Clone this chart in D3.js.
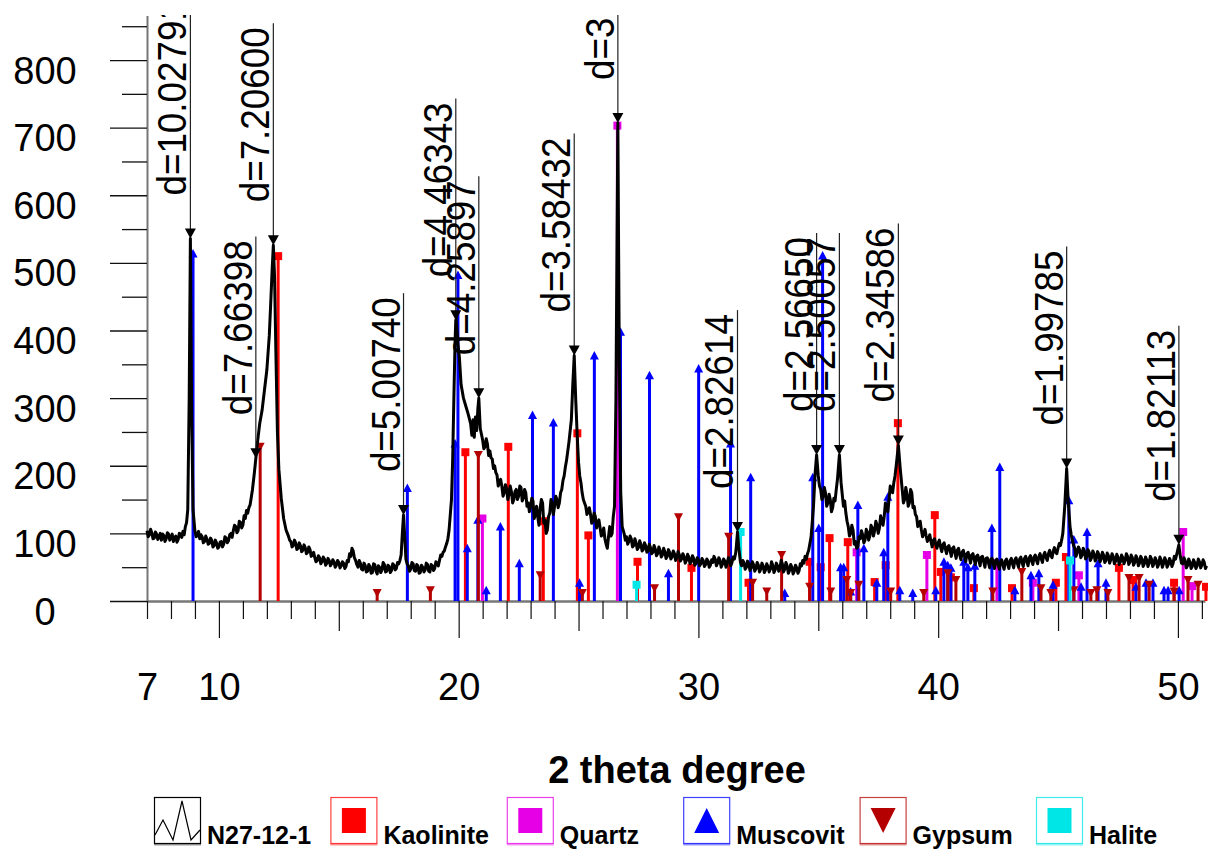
<!DOCTYPE html>
<html>
<head>
<meta charset="utf-8">
<script src="https://cdn.jsdelivr.net/npm/d3@7"></script>
<style>
  body { margin: 0; background: #fff; }
  svg { display: block; font-family: "Liberation Sans", Arial, sans-serif; }
</style>
</head>
<body>
<svg id="chart" width="1208" height="850"></svg>
<script>
// measured pattern N27-12-1 : [2theta, counts]
const spectrum = [
  [7.0,104],[7.05,95],[7.1,98],[7.15,106],[7.2,101],[7.25,92],[7.3,93],[7.35,102],[7.4,99],[7.45,91],
  [7.5,95],[7.55,100],[7.6,90],[7.65,99],[7.7,97],[7.75,88],[7.8,92],[7.85,101],[7.9,99],[7.95,90],
  [8.0,94],[8.05,99],[8.1,88],[8.15,93],[8.2,96],[8.25,87],[8.3,91],[8.35,100],[8.4,99],[8.45,94],
  [8.5,103],[8.55,98],[8.6,110],[8.65,116],[8.7,135],[8.76,300],[8.81,536],[8.86,290],[8.92,135],[9.0,103],
  [9.05,95],[9.1,97],[9.15,103],[9.2,92],[9.25,98],[9.3,95],[9.35,86],[9.4,88],[9.45,96],[9.5,92],
  [9.55,84],[9.6,85],[9.65,93],[9.7,90],[9.75,80],[9.8,82],[9.85,90],[9.9,86],[9.95,78],[10.0,80],
  [10.05,87],[10.1,88],[10.15,80],[10.2,84],[10.25,95],[10.3,93],[10.35,86],[10.4,89],[10.45,98],[10.5,100],
  [10.55,94],[10.6,104],[10.65,112],[10.7,110],[10.75,101],[10.8,104],[10.85,118],[10.9,116],[10.95,108],[11.0,112],
  [11.05,126],[11.1,122],[11.15,134],[11.2,130],[11.25,138],[11.3,142],[11.4,165],[11.48,190],[11.54,211],[11.6,232],
  [11.7,262],[11.8,282],[11.9,312],[12.0,342],[12.1,392],[12.16,440],[12.22,490],[12.27,526],[12.32,480],[12.38,360],
  [12.44,250],[12.5,195],[12.6,152],[12.7,122],[12.8,105],[12.9,96],[12.95,90],[13.0,88],[13.05,80],[13.1,82],
  [13.15,90],[13.2,86],[13.25,76],[13.3,78],[13.35,86],[13.4,82],[13.45,73],[13.5,75],[13.55,83],[13.6,79],
  [13.65,70],[13.7,72],[13.75,80],[13.8,76],[13.85,66],[13.9,68],[13.95,72],[14.0,64],[14.05,58],[14.1,60],
  [14.15,67],[14.2,64],[14.25,55],[14.3,58],[14.35,65],[14.4,62],[14.45,53],[14.5,56],[14.55,63],[14.6,60],
  [14.65,52],[14.7,55],[14.75,61],[14.8,58],[14.85,50],[14.9,53],[14.95,60],[15.0,57],[15.05,49],[15.1,52],
  [15.15,58],[15.2,56],[15.25,48],[15.3,51],[15.35,60],[15.4,58],[15.45,70],[15.5,66],[15.55,78],[15.6,74],
  [15.65,64],[15.7,60],[15.75,54],[15.8,50],[15.85,60],[15.9,56],[15.95,47],[16.0,46],[16.05,56],[16.1,53],
  [16.15,43],[16.2,44],[16.25,54],[16.3,51],[16.35,41],[16.4,42],[16.45,55],[16.5,54],[16.55,44],[16.6,40],
  [16.65,52],[16.7,50],[16.75,42],[16.8,46],[16.85,57],[16.9,54],[16.95,43],[17.0,44],[17.05,53],[17.1,51],
  [17.15,42],[17.2,45],[17.25,55],[17.3,53],[17.35,46],[17.4,48],[17.45,57],[17.5,55],[17.55,60],[17.6,68],
  [17.65,100],[17.7,127],[17.75,95],[17.8,62],[17.85,55],[17.9,52],[17.95,44],[18.0,47],[18.05,57],[18.1,55],
  [18.15,45],[18.2,44],[18.25,54],[18.3,52],[18.35,41],[18.4,42],[18.45,53],[18.5,50],[18.55,43],[18.6,46],
  [18.65,56],[18.7,54],[18.75,44],[18.8,43],[18.85,54],[18.9,52],[18.95,45],[19.0,48],[19.05,58],[19.1,56],
  [19.15,52],[19.2,60],[19.25,68],[19.3,66],[19.35,72],[19.4,74],[19.45,80],[19.5,85],[19.55,92],[19.6,105],
  [19.7,150],[19.75,210],[19.8,300],[19.85,385],[19.88,415],[19.92,405],[19.97,380],[20.03,360],[20.1,320],[20.2,300],
  [20.3,288],[20.4,276],[20.5,262],[20.55,245],[20.6,268],[20.65,242],[20.7,272],[20.75,252],[20.8,284],[20.84,300],
  [20.9,255],[21.0,238],[21.05,225],[21.1,228],[21.15,240],[21.2,232],[21.25,215],[21.3,222],[21.35,212],[21.4,210],
  [21.45,196],[21.5,200],[21.55,190],[21.6,186],[21.65,170],[21.7,176],[21.75,180],[21.8,170],[21.85,155],[21.9,160],
  [21.95,172],[22.0,166],[22.05,150],[22.1,158],[22.15,170],[22.2,162],[22.25,145],[22.3,150],[22.35,162],[22.4,165],
  [22.45,150],[22.5,155],[22.55,170],[22.6,168],[22.65,148],[22.7,152],[22.75,165],[22.8,160],[22.85,140],[22.9,145],
  [22.95,132],[23.0,140],[23.05,152],[23.1,148],[23.15,122],[23.2,128],[23.25,140],[23.3,124],[23.35,112],[23.4,138],
  [23.45,150],[23.5,145],[23.55,115],[23.6,120],[23.65,100],[23.7,105],[23.75,125],[23.8,130],[23.85,150],[23.9,145],
  [23.95,128],[24.0,140],[24.05,155],[24.1,150],[24.15,138],[24.2,145],[24.25,160],[24.3,165],[24.35,178],[24.4,185],
  [24.45,198],[24.5,208],[24.6,235],[24.7,268],[24.76,320],[24.82,363],[24.88,300],[24.95,240],[25.0,205],[25.05,185],
  [25.1,175],[25.15,160],[25.2,150],[25.25,145],[25.3,140],[25.35,128],[25.4,132],[25.45,138],[25.5,128],[25.55,115],
  [25.6,118],[25.65,130],[25.7,125],[25.75,108],[25.8,114],[25.85,120],[25.9,108],[25.95,96],[26.0,100],[26.05,108],
  [26.1,92],[26.15,84],[26.2,78],[26.25,95],[26.3,110],[26.35,96],[26.4,100],[26.45,125],[26.5,140],[26.56,300],
  [26.64,707],[26.7,350],[26.76,160],[26.82,110],[26.9,100],[26.95,90],[27.0,95],[27.05,84],[27.1,88],[27.15,96],
  [27.2,92],[27.25,80],[27.3,82],[27.35,92],[27.4,86],[27.45,76],[27.5,79],[27.55,89],[27.6,84],[27.65,74],
  [27.7,76],[27.75,86],[27.8,82],[27.85,72],[27.9,74],[27.95,84],[28.0,79],[28.05,70],[28.1,72],[28.15,82],
  [28.2,77],[28.25,67],[28.3,70],[28.35,80],[28.4,75],[28.45,65],[28.5,68],[28.55,78],[28.6,73],[28.65,63],
  [28.7,66],[28.75,76],[28.8,72],[28.85,62],[28.9,65],[28.95,74],[29.0,70],[29.05,60],[29.1,64],[29.15,73],
  [29.2,69],[29.25,59],[29.3,62],[29.35,70],[29.4,66],[29.45,56],[29.5,60],[29.55,69],[29.6,65],[29.65,55],
  [29.7,58],[29.75,67],[29.8,63],[29.85,53],[29.9,56],[29.95,64],[30.0,61],[30.05,52],[30.1,55],[30.15,63],
  [30.2,60],[30.25,51],[30.3,54],[30.35,62],[30.4,59],[30.45,50],[30.5,53],[30.55,61],[30.6,57],[30.65,66],
  [30.7,62],[30.75,52],[30.8,56],[30.85,64],[30.9,60],[30.95,50],[31.0,54],[31.05,62],[31.1,59],[31.15,50],
  [31.2,56],[31.25,64],[31.3,60],[31.35,52],[31.4,57],[31.45,65],[31.5,62],[31.55,70],[31.58,80],[31.63,102],
  [31.68,80],[31.75,58],[31.8,52],[31.85,60],[31.9,57],[31.95,47],[32.0,50],[32.05,59],[32.1,55],[32.15,45],
  [32.2,49],[32.25,58],[32.3,54],[32.35,44],[32.4,48],[32.45,57],[32.5,53],[32.55,43],[32.6,47],[32.65,56],
  [32.7,52],[32.75,42],[32.8,46],[32.85,55],[32.9,51],[32.95,43],[33.0,47],[33.05,58],[33.1,53],[33.15,42],
  [33.2,46],[33.25,56],[33.3,52],[33.35,44],[33.4,48],[33.45,60],[33.5,55],[33.55,43],[33.6,47],[33.65,57],
  [33.7,52],[33.75,41],[33.8,45],[33.85,54],[33.9,50],[33.95,40],[34.0,44],[34.05,53],[34.1,49],[34.15,41],
  [34.2,45],[34.25,55],[34.3,52],[34.35,60],[34.4,56],[34.45,66],[34.5,62],[34.55,70],[34.6,75],[34.7,95],
  [34.8,140],[34.87,190],[34.93,216],[35.0,185],[35.05,170],[35.1,165],[35.15,150],[35.2,155],[35.25,168],[35.3,160],
  [35.35,140],[35.4,145],[35.45,158],[35.5,150],[35.55,132],[35.6,138],[35.65,152],[35.7,148],[35.75,165],[35.8,180],
  [35.88,216],[35.95,175],[36.05,140],[36.1,148],[36.15,130],[36.2,118],[36.25,110],[36.3,96],[36.35,100],[36.4,112],
  [36.45,105],[36.5,84],[36.55,88],[36.6,78],[36.65,80],[36.7,95],[36.75,92],[36.8,104],[36.85,98],[36.9,86],
  [36.95,90],[37.0,106],[37.05,102],[37.1,90],[37.15,96],[37.2,112],[37.25,108],[37.3,96],[37.35,104],[37.4,118],
  [37.45,112],[37.5,100],[37.55,108],[37.6,126],[37.65,120],[37.7,112],[37.75,125],[37.8,145],[37.85,140],[37.9,132],
  [37.95,150],[38.0,170],[38.05,165],[38.1,160],[38.15,175],[38.2,185],[38.25,200],[38.34,230],[38.42,195],[38.5,165],
  [38.55,145],[38.6,150],[38.65,168],[38.7,158],[38.75,140],[38.8,145],[38.85,165],[38.9,160],[38.95,138],[39.0,140],
  [39.05,128],[39.1,125],[39.15,110],[39.2,112],[39.25,118],[39.3,105],[39.35,95],[39.4,100],[39.45,106],[39.5,96],
  [39.55,88],[39.6,92],[39.65,98],[39.7,88],[39.75,80],[39.8,90],[39.85,92],[39.9,84],[39.95,78],[40.0,86],
  [40.05,90],[40.1,80],[40.15,73],[40.2,83],[40.25,86],[40.3,77],[40.35,70],[40.4,80],[40.45,82],[40.5,74],
  [40.55,66],[40.6,78],[40.65,80],[40.7,71],[40.75,63],[40.8,75],[40.85,78],[40.9,68],[40.95,61],[41.0,72],
  [41.05,75],[41.1,66],[41.15,58],[41.2,70],[41.25,72],[41.3,64],[41.35,56],[41.4,68],[41.45,70],[41.5,62],
  [41.55,54],[41.6,66],[41.65,68],[41.7,60],[41.75,52],[41.8,65],[41.85,66],[41.9,58],[41.95,50],[42.0,63],
  [42.05,64],[42.1,56],[42.15,49],[42.2,62],[42.25,63],[42.3,55],[42.35,48],[42.4,60],[42.45,62],[42.5,54],
  [42.55,47],[42.6,58],[42.65,61],[42.7,53],[42.75,47],[42.8,59],[42.85,62],[42.9,54],[42.95,48],[43.0,60],
  [43.05,63],[43.1,55],[43.15,49],[43.2,61],[43.25,64],[43.3,56],[43.35,50],[43.4,62],[43.45,65],[43.5,57],
  [43.55,51],[43.6,63],[43.65,66],[43.7,58],[43.75,52],[43.8,64],[43.85,67],[43.9,59],[43.95,54],[44.0,65],
  [44.05,68],[44.1,60],[44.15,55],[44.2,66],[44.25,70],[44.3,62],[44.35,57],[44.4,68],[44.45,72],[44.5,64],
  [44.55,60],[44.6,70],[44.65,75],[44.7,67],[44.75,64],[44.8,74],[44.85,79],[44.9,72],[44.95,70],[45.0,78],
  [45.05,85],[45.1,82],[45.15,90],[45.2,100],[45.28,140],[45.36,196],[45.42,150],[45.5,110],[45.55,98],[45.6,90],
  [45.65,82],[45.7,78],[45.75,66],[45.8,72],[45.85,80],[45.9,76],[45.95,64],[46.0,68],[46.05,78],[46.1,74],
  [46.15,62],[46.2,66],[46.25,76],[46.3,72],[46.35,60],[46.4,64],[46.45,74],[46.5,70],[46.55,59],[46.6,63],
  [46.65,73],[46.7,69],[46.75,58],[46.8,62],[46.85,72],[46.9,68],[46.95,57],[47.0,60],[47.05,71],[47.1,67],
  [47.15,56],[47.2,61],[47.25,70],[47.3,66],[47.35,55],[47.4,59],[47.45,69],[47.5,65],[47.55,54],[47.6,58],
  [47.65,68],[47.7,64],[47.75,55],[47.8,60],[47.85,70],[47.9,66],[47.95,54],[48.0,58],[48.05,68],[48.1,64],
  [48.15,53],[48.2,57],[48.25,67],[48.3,63],[48.35,52],[48.4,56],[48.45,66],[48.5,62],[48.55,51],[48.6,55],
  [48.65,65],[48.7,61],[48.75,51],[48.8,56],[48.85,66],[48.9,62],[48.95,51],[49.0,55],[49.05,64],[49.1,60],
  [49.15,50],[49.2,54],[49.25,65],[49.3,61],[49.35,50],[49.4,55],[49.45,64],[49.5,60],[49.55,50],[49.6,54],
  [49.65,63],[49.7,59],[49.75,51],[49.8,56],[49.85,66],[49.9,62],[49.97,72],[50.04,83],[50.1,66],[50.15,56],
  [50.2,55],[50.25,64],[50.3,60],[50.35,49],[50.4,52],[50.45,62],[50.5,58],[50.55,48],[50.6,51],[50.65,61],
  [50.7,57],[50.75,48],[50.8,52],[50.85,62],[50.9,58],[50.95,49],[51.0,53],[51.05,61],[51.1,57],[51.15,48],
  [51.2,52]
];

// reference sticks : [2theta, intensity]
const kaolinite = [
  [12.47,510],[20.28,220],[22.07,228],[23.53,118],[24.95,248],[25.41,97],[27.46,58],[29.71,49],
  [32.09,27],[34.64,58],[35.10,50],[35.47,93],[36.23,87],[37.35,28],[37.81,53],[38.32,263],
  [39.86,127],[40.11,43],[40.53,35],[41.49,19],[43.08,19],[44.91,27],[45.33,65],[47.54,49],
  [48.13,31],[49.84,27],[51.17,21]
];
const quartz = [
  [20.99,122],[26.62,703],[36.60,72],[39.53,68],[42.45,56],[43.95,27],[45.87,38],[50.22,102],[50.59,22]
];
const muscovite = [
  [8.92,514],[17.86,167],[19.85,233],[19.97,482],[20.36,78],[20.80,120],[21.15,16],[21.74,110],
  [22.53,56],[23.08,275],[23.95,264],[25.04,27],[25.66,363],[26.75,398],[27.96,334],[28.75,41],
  [30.01,344],[31.34,233],[32.18,183],[33.60,12],[34.77,183],[35.02,108],[35.18,511],[35.93,50],
  [36.06,50],[36.35,14],[36.65,142],[36.90,78],[37.44,27],[37.73,72],[37.90,154],[38.40,16],
  [38.94,12],[39.90,16],[40.24,58],[40.40,53],[40.53,49],[41.07,58],[41.24,50],[41.53,52],
  [42.24,108],[42.57,198],[43.20,16],[43.87,38],[44.20,41],[44.79,24],[45.45,149],[45.66,91],
  [45.96,21],[46.21,102],[46.67,56],[47.00,27],[48.25,21],[48.67,27],[48.96,27],[49.42,16],
  [49.59,16],[50.05,16]
];
const gypsum = [
  [11.72,228],[16.60,12],[18.82,16],[20.82,216],[23.40,38],[25.16,12],[28.17,19],[29.17,124],
  [31.26,95],[32.26,27],[32.85,14],[33.47,68],[34.64,21],[35.52,14],[36.19,31],[36.35,12],
  [36.69,24],[38.02,14],[39.40,12],[40.40,41],[40.74,31],[42.28,14],[43.49,43],[44.29,19],
  [44.70,12],[45.66,16],[46.37,12],[46.62,16],[47.08,12],[47.96,34],[48.38,34],[48.80,24],
  [49.84,14],[50.42,31],[50.84,24]
];
const halite = [[27.42,24],[31.76,102],[45.50,60]];

// labelled peaks
const peakLabels = ["d=10.02791","d=7.66398","d=7.20600","d=5.00740","d=4.46343","d=4.25897","d=3.58432",
  "d=3.34353","d=2.82614","d=2.56650","d=2.50057","d=2.34586","d=1.99785","d=1.82113"];
const peakTheta = [8.81,11.54,12.27,17.70,19.88,20.84,24.82,26.64,31.63,34.93,35.88,38.34,45.36,50.04];
const peakCounts = [536,211,526,127,415,300,363,707,102,216,216,230,196,83];

const yMajorTicks = d3.range(0, 801, 100);
const yMinorTicks = d3.range(50, 851, 100);
const xTicks = d3.range(7, 52);
const xTickLabels = [7, 10, 20, 30, 40, 50];

const legendNames = ["N27-12-1","Kaolinite","Quartz","Muscovit","Gypsum","Halite"];

const phases = [
  {data: kaolinite, color: "#ff0000", shape: "square"},
  {data: quartz, color: "#e600e6", shape: "square"},
  {data: muscovite, color: "#0000ff", shape: "up"},
  {data: gypsum, color: "#b40000", shape: "down"},
  {data: halite, color: "#00e6e6", shape: "square"}
];
const shapes = {
  square: "M-4,-4h8v8h-8z",
  up: "M-4.5,4L0,-4.5L4.5,4Z",
  down: "M-4.5,-4L4.5,-4L0,4.5Z"
};

const svg = d3.select("#chart");
const x = d3.scaleLinear().domain([7, 51.13]).range([147, 1205]);
const y = d3.scaleLinear().domain([0, 866]).range([601, 15.4]);

svg.append("defs").append("clipPath").attr("id", "plotClip")
  .append("rect").attr("x", 140).attr("y", 15).attr("width", 1068).attr("height", 600);

// y axis
const yMajor = svg.append("g").attr("transform", "translate(147,0)")
  .call(d3.axisLeft(y).tickValues(yMajorTicks).tickSize(37).tickSizeOuter(0));
yMajor.select(".domain").attr("stroke", "#777").attr("stroke-width", 2);
yMajor.selectAll(".tick line").attr("stroke", "#111").attr("stroke-width", 1.3);
yMajor.selectAll(".tick text")
  .attr("x", 45 - 147).attr("dy", 23).attr("text-anchor", "middle")
  .attr("font-size", 38).attr("font-family", "Liberation Sans, Arial, sans-serif").attr("fill", "#000");

const yMinor = svg.append("g").attr("transform", "translate(147,0)")
  .call(d3.axisLeft(y).tickValues(yMinorTicks).tickSize(25).tickFormat(""));
yMinor.select(".domain").remove();
yMinor.selectAll(".tick line").attr("stroke", "#111").attr("stroke-width", 1.3);

// x axis
const xAxis = svg.append("g").attr("transform", "translate(0,601)")
  .call(d3.axisBottom(x).tickValues(xTicks).tickSizeOuter(0)
    .tickFormat(d => xTickLabels.includes(d) ? d : ""));
xAxis.select(".domain").attr("stroke", "#777").attr("stroke-width", 2.5);
xAxis.selectAll(".tick line")
  .attr("stroke", "#111").attr("stroke-width", 1.2)
  .attr("y2", d => d % 10 === 0 ? 37 : d % 5 === 0 ? 30 : 18);
xAxis.selectAll(".tick text")
  .attr("y", 99).attr("dy", 0).attr("font-size", 38)
  .attr("font-family", "Liberation Sans, Arial, sans-serif").attr("fill", "#000");

svg.append("text")
  .attr("x", 677).attr("y", 783).attr("text-anchor", "middle")
  .attr("font-size", 38).attr("font-weight", "bold")
  .text("2 theta degree");

// reference sticks
const plot = svg.append("g").attr("clip-path", "url(#plotClip)");
phases.forEach(p => {
  const g = plot.append("g");
  g.selectAll("line").data(p.data).join("line")
    .attr("x1", d => x(d[0])).attr("x2", d => x(d[0]))
    .attr("y1", y(0)).attr("y2", d => y(d[1]))
    .attr("stroke", p.color).attr("stroke-width", 3);
  g.selectAll("path").data(p.data).join("path")
    .attr("transform", d => `translate(${x(d[0])},${y(d[1])})`)
    .attr("d", shapes[p.shape]).attr("fill", p.color);
});

// measured pattern
const line = d3.line().x(d => x(d[0])).y(d => y(d[1]));
plot.append("path").datum(spectrum)
  .attr("d", line).attr("fill", "none")
  .attr("stroke", "#000").attr("stroke-width", 3).attr("stroke-linejoin", "round");

// peak labels
const peaks = peakTheta.map((t, i) => ({t, c: peakCounts[i], label: peakLabels[i]}));
const pg = plot.append("g");
peaks.forEach(p => {
  const px = x(p.t), py = y(p.c);
  const txt = pg.append("text")
    .attr("transform", `translate(${px - 4},${py - 43}) rotate(-90) scale(0.92,1)`)
    .attr("font-size", 40).attr("fill", "#000")
    .text(p.label);
  const len = txt.node().getComputedTextLength() * 0.92;
  pg.append("line")
    .attr("x1", px).attr("x2", px)
    .attr("y1", py - 43 - len - 4).attr("y2", py - 8)
    .attr("stroke", "#222").attr("stroke-width", 1.2);
  pg.append("path")
    .attr("transform", `translate(${px},${py})`)
    .attr("d", "M-5.5,-10L5.5,-10L0,0Z").attr("fill", "#000");
});

// legend
const legendColors = ["#000", "#ff0000", "#e600e6", "#0000ff", "#b40000", "#00e6e6"];
const legendShapes = ["zigzag", "square", "square", "up", "down", "square"];
const lg = svg.append("g").selectAll("g").data(legendNames).join("g")
  .attr("transform", (d, i) => `translate(${154 + i * 176.4},797)`);
lg.append("rect").attr("x", 0.5).attr("y", 0.5).attr("width", 46).attr("height", 46)
  .attr("fill", "#fff").attr("stroke", (d, i) => legendColors[i]).attr("stroke-width", 1.2)
  .attr("stroke-opacity", (d, i) => i === 0 ? 1 : 0.75);
lg.append("line").attr("x1", 0).attr("x2", 47).attr("y1", 47.5).attr("y2", 47.5)
  .attr("stroke", (d, i) => legendColors[i]).attr("stroke-opacity", 0.4).attr("stroke-width", 2);
lg.each(function (d, i) {
  const g = d3.select(this);
  const s = legendShapes[i];
  if (s === "zigzag") {
    g.append("path").attr("d", "M1,38L9,23L19,43L28,4L37,43L46,33")
      .attr("fill", "none").attr("stroke", "#000").attr("stroke-width", 1.2);
  } else if (s === "square") {
    g.append("rect").attr("x", 11.5).attr("y", 11).attr("width", 24).attr("height", 25)
      .attr("fill", legendColors[i]);
  } else if (s === "up") {
    g.append("path").attr("d", "M11,36L23.5,11L36,36Z").attr("fill", legendColors[i]);
  } else {
    g.append("path").attr("d", "M11,11L36,11L23.5,36Z").attr("fill", legendColors[i]);
  }
});
lg.append("text").attr("x", 53).attr("y", 47)
  .attr("font-size", 25).attr("font-weight", "bold").text(d => d);
</script>
</body>
</html>
